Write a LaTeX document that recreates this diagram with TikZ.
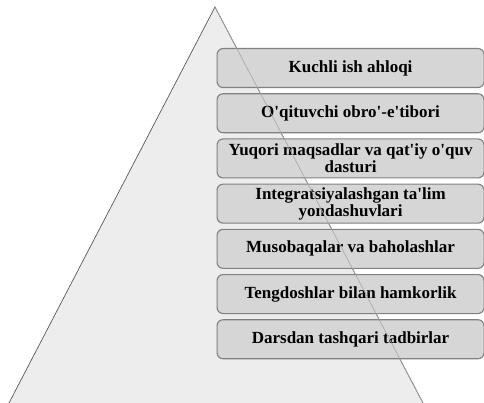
\documentclass[tikz,border=0pt]{standalone}
\usepackage{fontspec}
\setmainfont{Liberation Serif}
\newcommand{\ap}{\textquotesingle}
\begin{document}
\begin{tikzpicture}[x=1pt,y=-1pt,
  tier/.style={draw=black!50, fill=black!16, line width=1.1pt, rounded corners=6pt,
    minimum width=267pt, minimum height=39pt, inner sep=1pt, align=center,
    font=\bfseries\fontsize{17}{17}\selectfont, anchor=north west}]
\useasboundingbox (0,0) rectangle (484,403);
\coordinate (apex) at (215,7);
\coordinate (bl) at (9,403);
\coordinate (br) at (423,403);
\fill[black!7] (apex) -- (bl) -- (br) -- cycle;
\draw[black!65, line width=0.7pt] (bl) -- (apex) -- (br);
\node[tier] (t1) at (216.5,48) {Kuchli ish ahloqi};
\node[tier] (t2) at (216.5,93.2) {O\ap qituvchi obro\ap-e\ap tibori};
\node[tier] (t3) at (216.5,138.4) {Yuqori maqsadlar va qat\ap iy o\ap quv\\dasturi};
\node[tier] (t4) at (216.5,183.6) {Integratsiyalashgan ta\ap lim\\yondashuvlari};
\node[tier] (t5) at (216.5,228.8) {Musobaqalar va baholashlar};
\node[tier] (t6) at (216.5,274) {Tengdoshlar bilan hamkorlik};
\node[tier] (t7) at (216.5,319.2) {Darsdan tashqari tadbirlar};
\draw[black!35, line width=0.6pt] (apex) -- (br);
\end{tikzpicture}
\end{document}
